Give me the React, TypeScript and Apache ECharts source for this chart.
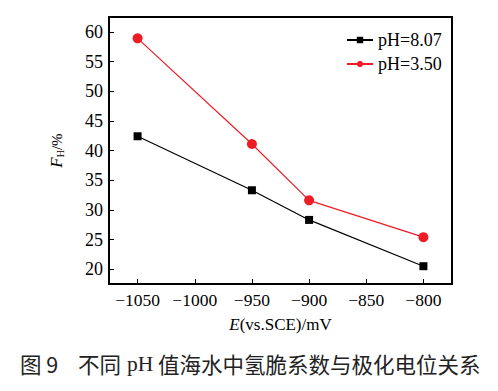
import React, { useEffect, useRef } from "react";
import * as echarts from "echarts";

const potentials = [-1050, -950, -900, -800];
const seriesNames = ["pH=8.07", "pH=3.50"];
const fhPH807 = [42.4, 33.3, 28.3, 20.5];
const fhPH350 = [58.9, 41.1, 31.6, 25.4];
const xTicks = [-1050, -1000, -950, -900, -850, -800];
const yTicks = [20, 25, 30, 35, 40, 45, 50, 55, 60];
const captionParts = ["图 9", "不同", "pH", "值海水中氢脆系数与极化电位关系"];

const SERIF = "Liberation Serif";
const TICKFONT = "Times New Roman";
const CJK = "Noto Sans CJK SC";

export default function App() {
  const ref = useRef<HTMLDivElement>(null);
  useEffect(() => {
    if (!ref.current) return;
    const chart = echarts.init(ref.current, undefined, { renderer: "svg" });
    const pairs = (ys: number[]) => potentials.map((x, i) => [x, ys[i]]);
    const capText = (text: string, left: number, family: string) => ({
      type: "text",
      left,
      top: 353,
      style: { text, fontSize: 21.5, fontFamily: family, fill: "#222" },
    });
    chart.setOption({
      animation: false,
      backgroundColor: "#fff",
      textStyle: { fontFamily: SERIF, color: "#000" },
      grid: {
        left: 109,
        top: 17,
        right: 46,
        bottom: 107,
        show: true,
        borderColor: "#000",
        borderWidth: 2,
        backgroundColor: "transparent",
      },
      legend: {
        orient: "vertical",
        left: 341,
        top: 26,
        itemWidth: 26,
        itemHeight: 8,
        itemGap: 6,
        textStyle: { fontFamily: SERIF, fontSize: 18, color: "#000" },
        data: seriesNames,
      },
      xAxis: {
        type: "value",
        min: -1075,
        max: -775,
        interval: 25,
        name: "{i|E}{n|(vs.SCE)/mV}",
        nameLocation: "middle",
        nameGap: 32,
        nameTextStyle: {
          rich: {
            i: { fontFamily: SERIF, fontSize: 17, fontStyle: "italic", color: "#000" },
            n: { fontFamily: SERIF, fontSize: 17, color: "#000" },
          },
        },
        axisLine: { show: true, lineStyle: { color: "#000", width: 2 } },
        axisTick: { show: true, inside: true, length: 5, lineStyle: { color: "#000", width: 1 }, customValues: xTicks },
        axisLabel: {
          margin: 7,
          fontFamily: TICKFONT,
          fontSize: 17.5,
          textStyle: { fontFamily: TICKFONT, fontSize: 17.5, color: "#000" },
          formatter: (v: number) => (xTicks.includes(v) ? String(v).replace("-", "\u2212") : ""),
        },
        splitLine: { show: false },
      },
      yAxis: {
        type: "value",
        min: 17.5,
        max: 62.5,
        interval: 2.5,
        name: "{i|F}{s|H}{n|/%}",
        nameLocation: "middle",
        nameRotate: 90,
        nameGap: 44,
        nameTextStyle: {
          rich: {
            i: { fontFamily: SERIF, fontSize: 17, fontStyle: "italic", color: "#000" },
            s: { fontFamily: SERIF, fontSize: 10, color: "#000", verticalAlign: "bottom", padding: [6, 0, 0, 0] },
            n: { fontFamily: SERIF, fontSize: 15, color: "#000" },
          },
        },
        axisLine: { show: true, lineStyle: { color: "#000", width: 2 } },
        axisTick: { show: true, inside: true, length: 5, lineStyle: { color: "#000", width: 1 }, customValues: yTicks },
        axisLabel: {
          margin: 6,
          fontFamily: TICKFONT,
          fontSize: 18,
          textStyle: { fontFamily: TICKFONT, fontSize: 18, color: "#000" },
          formatter: (v: number) => (yTicks.includes(v) ? String(v) : ""),
        },
        splitLine: { show: false },
      },
      series: [
        {
          name: seriesNames[0],
          type: "line",
          data: pairs(fhPH807),
          symbol: "rect",
          symbolSize: 8,
          itemStyle: { color: "#000" },
          lineStyle: { color: "#000", width: 1.2 },
        },
        {
          name: seriesNames[1],
          type: "line",
          data: pairs(fhPH350),
          symbol: "circle",
          symbolSize: 10,
          itemStyle: { color: "#EE1C25" },
          lineStyle: { color: "#EE1C25", width: 1.2 },
        },
      ],
      graphic: [
        capText(captionParts[0], 20, CJK),
        capText(captionParts[1], 78, CJK),
        capText(captionParts[2], 127, SERIF),
        capText(captionParts[3], 158, CJK),
      ],
    });
    return () => chart.dispose();
  }, []);
  return (
    <div
      ref={ref}
      style={{ position: "fixed", left: 0, top: 0, width: 498, height: 391, background: "#fff" }}
    />
  );
}
